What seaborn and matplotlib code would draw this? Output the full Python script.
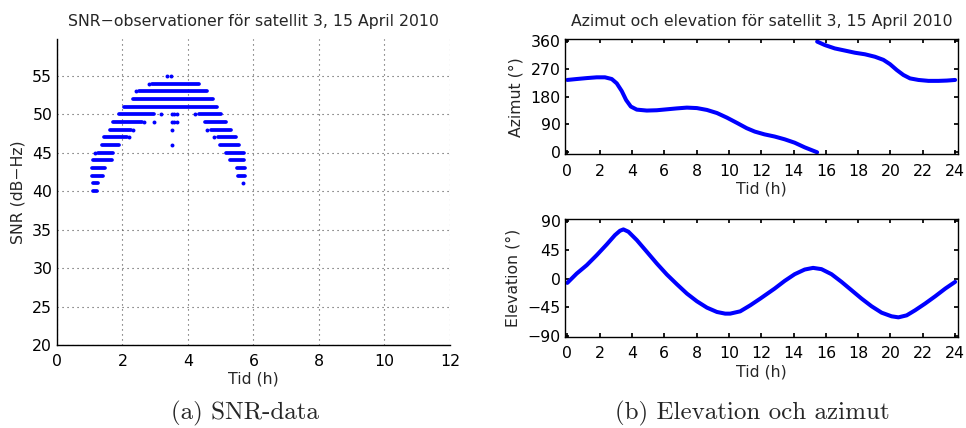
import numpy as np
import pandas as pd
import matplotlib
matplotlib.use("Agg")
import matplotlib.pyplot as plt
import seaborn as sns

# ---------------- data ----------------
# SNR bands (integer SNR levels, time spans in hours)
band_snr   = [54, 53, 52, 51, 50, 50, 49, 49, 48, 48, 47, 47, 46, 46, 45, 45, 44, 44, 43, 43, 42, 42, 41, 40]
band_start = [2.89, 2.51, 2.33, 2.05, 1.90, 4.34, 1.70, 4.52, 1.62, 4.69, 1.44, 4.93, 1.36, 4.98, 1.24, 5.15, 1.11, 5.28, 1.08, 5.49, 1.08, 5.52, 1.09, 1.09]
band_end   = [4.35, 4.57, 4.77, 4.90, 2.97, 5.01, 2.59, 5.15, 2.25, 5.31, 2.13, 5.46, 1.90, 5.56, 1.72, 5.72, 1.67, 5.72, 1.48, 5.74, 1.39, 5.74, 1.26, 1.23]
# isolated SNR observations
dot_t   = [3.35, 3.49, 2.81, 2.41, 3.19, 3.51, 3.58, 3.65, 4.21, 2.66, 2.97, 3.51, 3.58, 3.65, 2.33, 3.52, 4.59, 2.20, 4.80, 3.52, 1.15, 5.69]
dot_snr = [55, 55, 54, 53, 50, 50, 50, 50, 50, 49, 49, 49, 49, 49, 48, 48, 48, 47, 47, 46, 45, 41]

# azimuth (two branches, wrap at 360)
az1_t = [0.0, 0.58, 1.2, 1.82, 2.33, 2.75, 3.06, 3.37, 3.64, 3.93, 4.3, 4.92, 5.54, 6.16, 6.78, 7.4,
         8.02, 8.64, 9.26, 9.88, 10.5, 11.1, 11.6, 12.2, 12.83, 13.45, 14.07, 14.69, 15.46]
az1   = [234, 237, 240, 242.5, 242.5, 237, 223, 198, 169, 148, 138, 135, 136, 139, 142, 144.5,
         143, 137, 127, 112, 95, 78, 67, 58, 51, 42, 31, 16, 0]
az2_t = [15.46, 15.93, 16.55, 17.18, 17.8, 18.42, 19.04, 19.56, 19.97, 20.39, 20.8, 21.21, 21.73,
         22.35, 22.97, 23.49, 24.0]
az2   = [358, 347, 336, 329, 322, 317, 309, 299, 285, 266, 250, 239, 234, 231, 231, 232, 234]

# elevation
el_t = [0.0, 0.58, 1.2, 1.82, 2.44, 2.95, 3.26, 3.47, 3.78, 4.3, 4.92, 5.54, 6.16, 6.78, 7.4, 8.02,
        8.64, 9.26, 9.77, 10.08, 10.7, 11.32, 11.94, 12.83, 13.45, 14.07, 14.69, 15.21, 15.73, 16.35,
        16.97, 17.59, 18.21, 18.83, 19.45, 20.07, 20.49, 21.0, 21.52, 22.14, 22.77, 23.39, 24.0]
el   = [-6.8, 7.8, 20.9, 36.6, 53.4, 68, 74.8, 76.9, 73.3, 60.2, 41.9, 23.5, 6.3, -8.9, -23.5, -35.6,
        -45.5, -52.3, -54.9, -54.9, -51.3, -41.9, -31.4, -15.7, -3.7, 6.8, 14.1, 16.7, 14.7, 6.8,
        -5.2, -18.3, -31.4, -43.4, -53.4, -59.1, -60.7, -57.6, -49.7, -39.2, -27.7, -15.7, -5.2]

snr_yticks = [20, 25, 30, 35, 40, 45, 50, 55]
snr_xticks = [0, 2, 4, 6, 8, 10, 12]
az_yticks = [0, 90, 180, 270, 360]
el_yticks = [-90, -45, 0, 45, 90]
day_xticks = list(range(0, 25, 2))

# ---------------- style ----------------
sns.set_theme(style="white")
plt.rcParams['font.family'] = ['DejaVu Sans']
plt.rcParams['axes.unicode_minus'] = True
BLUE = (0, 0, 1)
FS = 11.3

fig = plt.figure(figsize=(9.66, 4.28), dpi=100)

# ---- left: SNR ----
ax = fig.add_axes([0.059, 0.194, 0.4068, 0.7138])
rows = []
for i, (s, a, b) in enumerate(zip(band_snr, band_start, band_end)):
    rows.append({"t": a, "snr": s, "band": i})
    rows.append({"t": b, "snr": s, "band": i})
bands = pd.DataFrame(rows)
sns.lineplot(data=bands, x="t", y="snr", units="band", estimator=None, ax=ax,
             color=BLUE, lw=2.7, solid_capstyle="round", legend=False)
dots = pd.DataFrame({"t": dot_t, "snr": dot_snr})
sns.scatterplot(data=dots, x="t", y="snr", ax=ax, color=BLUE, s=8, linewidth=0, legend=False)
ax.set_xlim(0, 12)
ax.set_ylim(20, 59.73)
ax.set_xticks(snr_xticks)
ax.set_yticks(snr_yticks)
ax.grid(True, linestyle=(0, (1, 3.5)), color="0.3", lw=0.8)
for s in ["top", "right"]:
    ax.spines[s].set_visible(False)
for s in ["left", "bottom"]:
    ax.spines[s].set_color("black")
    ax.spines[s].set_linewidth(1.0)
ax.tick_params(direction="in", length=2.5, labelsize=FS, colors="black")
ax.tick_params(axis="x", pad=6.5)
ax.tick_params(axis="y", pad=3.5)
ax.set_xlabel("Tid (h)", fontsize=FS, labelpad=2)
ax.set_ylabel("SNR (dB\u2212Hz)", fontsize=FS, labelpad=5)
ax.set_title("SNR\u2212observationer för satellit 3, 15 April 2010", fontsize=FS, pad=9.4)

# ---- right top: azimuth ----
ax2 = fig.add_axes([0.5846, 0.6402, 0.4075, 0.268])
az_df1 = pd.DataFrame({"t": az1_t, "az": az1})
az_df2 = pd.DataFrame({"t": az2_t, "az": az2})
sns.lineplot(data=az_df1, x="t", y="az", ax=ax2, color=BLUE, lw=2.9, estimator=None, sort=False)
sns.lineplot(data=az_df2, x="t", y="az", ax=ax2, color=BLUE, lw=2.9, estimator=None, sort=False)
ax2.set_xlim(-0.16, 24.2)
ax2.set_ylim(-5.5, 365.5)
ax2.set_yticks(az_yticks)
ax2.set_xticks(day_xticks)
ax2.set_xlabel("Tid (h)", fontsize=FS, labelpad=2)
ax2.set_ylabel("Azimut (°)", fontsize=FS, labelpad=5)
ax2.set_title("Azimut och elevation för satellit 3, 15 April 2010", fontsize=FS, pad=9.6)

# ---- right bottom: elevation ----
ax3 = fig.add_axes([0.5846, 0.2133, 0.4075, 0.2743])
el_df = pd.DataFrame({"t": el_t, "el": el})
sns.lineplot(data=el_df, x="t", y="el", ax=ax3, color=BLUE, lw=2.9, estimator=None, sort=False)
ax3.set_xlim(-0.16, 24.2)
ax3.set_ylim(-91, 92.7)
ax3.set_yticks(el_yticks)
ax3.set_xticks(day_xticks)
ax3.set_xlabel("Tid (h)", fontsize=FS, labelpad=2)
ax3.set_ylabel("Elevation (°)", fontsize=FS, labelpad=5)

for a in (ax2, ax3):
    for s in a.spines.values():
        s.set_visible(True)
        s.set_color("black")
        s.set_linewidth(1.0)
    a.tick_params(direction="in", length=3, labelsize=FS, colors="black",
                  top=True, right=True, bottom=True, left=True)
    a.tick_params(axis="x", pad=7)
    a.tick_params(axis="y", pad=3)
    a.grid(False)

# captions
fig.text(0.2536, 0.019, "(a) SNR-data", family=["cmr10", "DejaVu Serif"], fontsize=18,
         ha="center", va="baseline")
fig.text(0.779, 0.019, "(b) Elevation och azimut", family=["cmr10", "DejaVu Serif"], fontsize=18,
         ha="center", va="baseline")

fig.savefig("out.png", dpi=100)
